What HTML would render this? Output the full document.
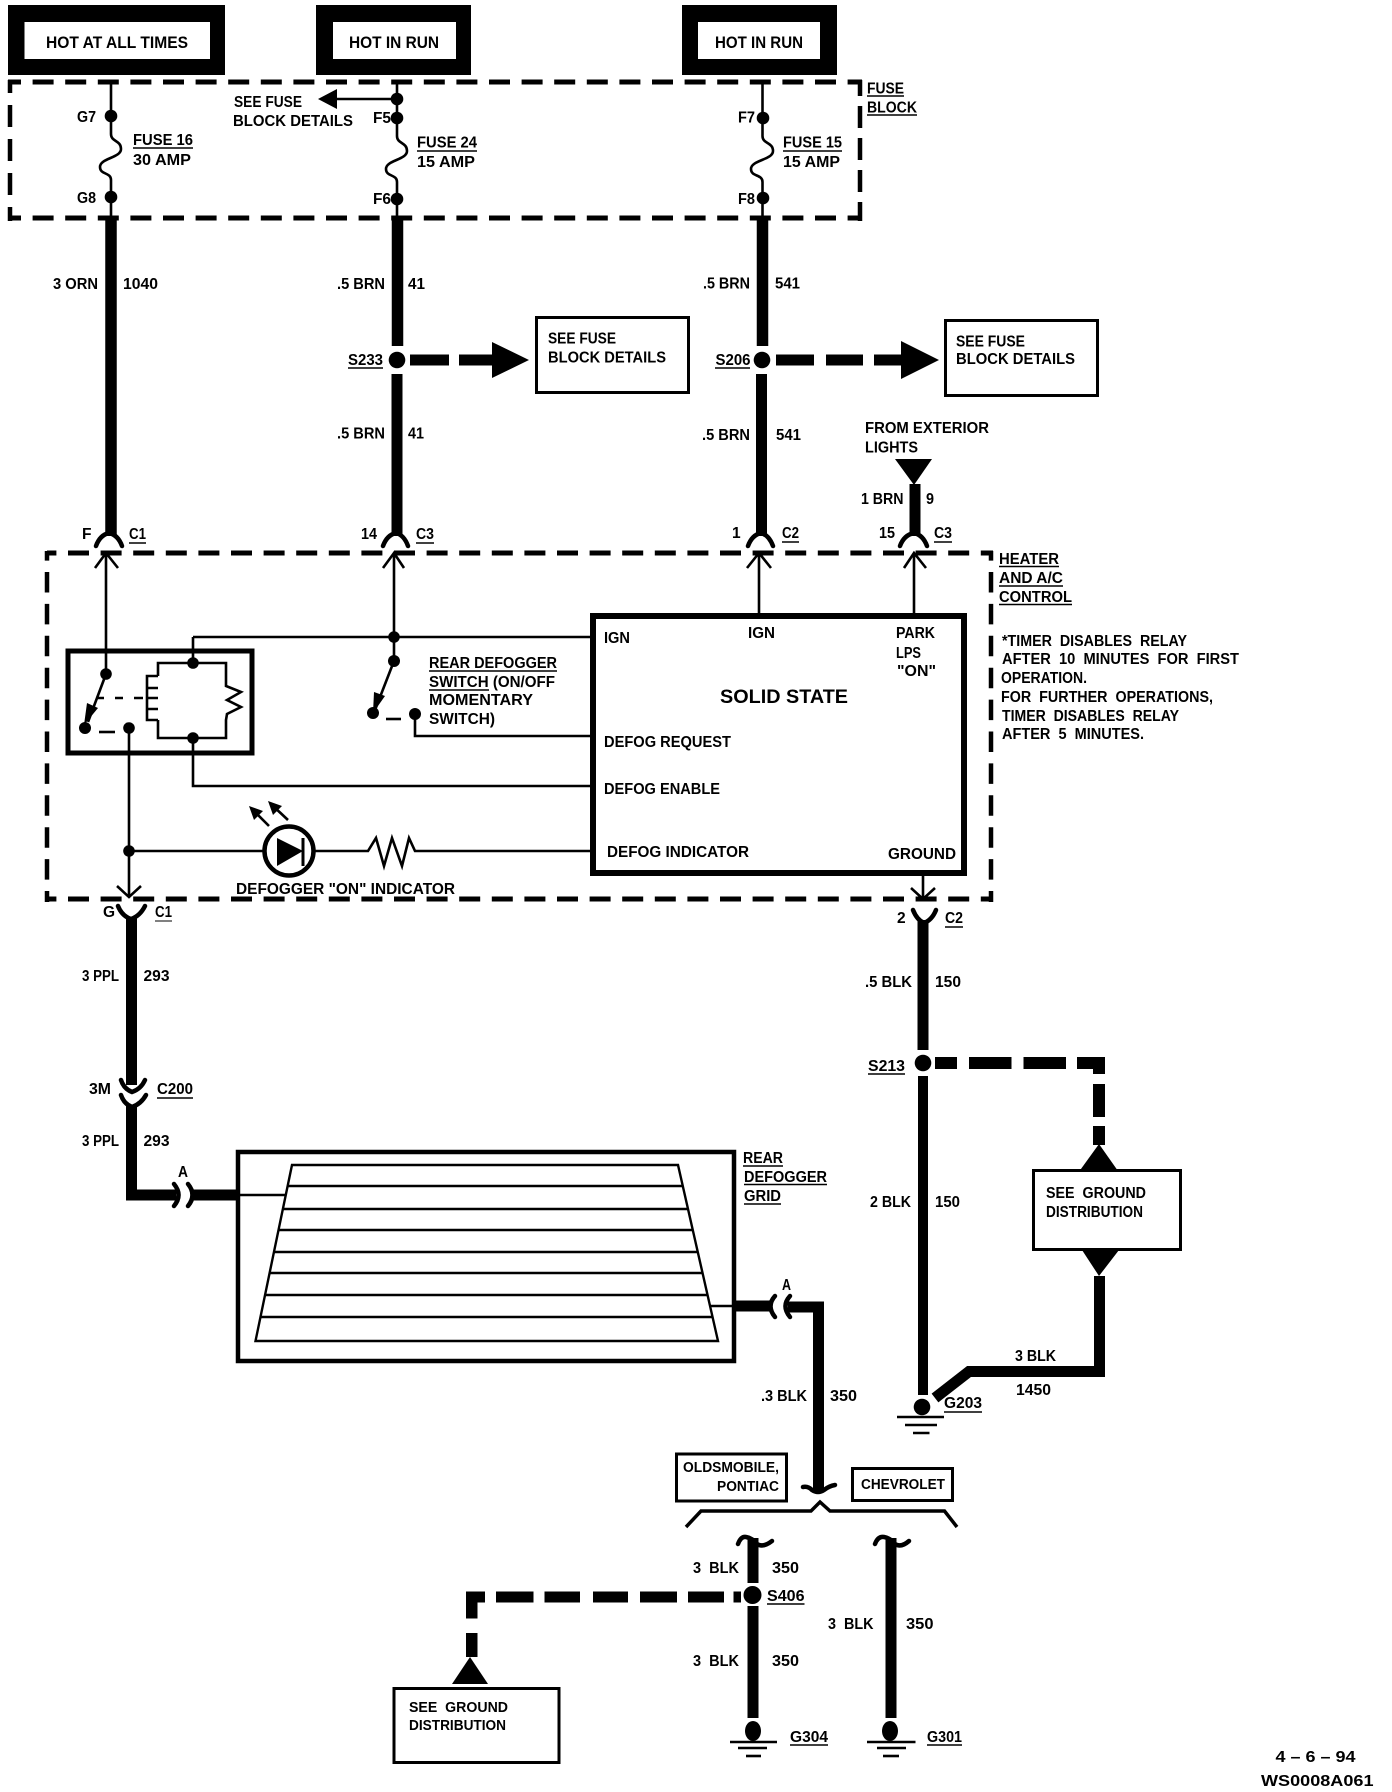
<!DOCTYPE html>
<html><head><meta charset="utf-8"><style>
html,body{margin:0;padding:0;background:#fff}
svg{display:block}
text{font-family:"Liberation Sans",sans-serif;font-weight:bold;font-size:15.5px;fill:#000}
.d{stroke:#000;fill:none}
.u{stroke:#000;stroke-width:1.6;fill:none}
.w{stroke:#000;fill:none;stroke-width:2.6}
.f{stroke:#000;fill:none;stroke-width:11}
.c{stroke:#000;fill:none;stroke-width:4.5;stroke-linecap:round}
.b{stroke:#000;fill:#fff;stroke-width:3}
</style></head><body>
<svg width="1392" height="1792" viewBox="0 0 1392 1792" xmlns="http://www.w3.org/2000/svg">
<rect width="1392" height="1792" fill="#fff"/>

<!-- top boxes -->
<rect x="8" y="5" width="217" height="70"/><rect x="24.5" y="22" width="185.500" height="37" fill="#fff"/>
<rect x="316" y="5" width="155" height="70"/><rect x="333" y="22" width="123" height="37" fill="#fff"/>
<rect x="682" y="5" width="155" height="70"/><rect x="698" y="22" width="122" height="37" fill="#fff"/>
<text x="46" y="48" textLength="142" lengthAdjust="spacingAndGlyphs" style="font-size:16.5px">HOT AT ALL TIMES</text>
<text x="349" y="48" textLength="90" lengthAdjust="spacingAndGlyphs" style="font-size:16.5px">HOT IN RUN</text>
<text x="715" y="48" textLength="88" lengthAdjust="spacingAndGlyphs" style="font-size:16.5px">HOT IN RUN</text>

<!-- fuse block dashed -->
<line class="d" x1="8" y1="82" x2="862" y2="82" stroke-width="5" stroke-dasharray="21 11.6" stroke-dashoffset="8"/>
<line class="d" x1="8" y1="218" x2="862" y2="218" stroke-width="5" stroke-dasharray="21 11.6" stroke-dashoffset="8"/>
<line class="d" x1="10" y1="80" x2="10" y2="221" stroke-width="4.5" stroke-dasharray="22 12" stroke-dashoffset="9"/>
<line class="d" x1="860" y1="80" x2="860" y2="221" stroke-width="4.5" stroke-dasharray="22 10" stroke-dashoffset="6"/>

<!-- fuse wires thin -->
<line class="w" x1="111" y1="84" x2="111" y2="134"/><line class="w" x1="111" y1="180" x2="111" y2="217"/>
<path class="w" d="M111 134C111 142 121 140 121 149C121 158 100 158 100 167C100 175 111 172 111 180"/>
<circle cx="111" cy="116" r="6.300"/><circle cx="111" cy="197" r="6.300"/>
<line class="w" x1="397" y1="84" x2="397" y2="136"/><line class="w" x1="397" y1="182" x2="397" y2="217"/>
<path class="w" d="M397 136C397 144 407 142 407 151C407 160 386 160 386 169C386 177 397 174 397 182"/>
<circle cx="397" cy="99" r="6.300"/><circle cx="397" cy="118" r="6.300"/><circle cx="397" cy="199" r="6.300"/>
<line class="w" x1="397" y1="99" x2="335" y2="99"/><polygon points="318,99 337,89 337,109"/>
<line class="w" x1="762.500" y1="84" x2="762.500" y2="136"/><line class="w" x1="762.500" y1="182" x2="762.500" y2="217"/>
<path class="w" d="M762.500 136C762.500 144 773 142 773 151C773 160 751 160 751 169C751 177 762.500 174 762.500 182"/>
<circle cx="763" cy="118" r="6.300"/><circle cx="763" cy="198" r="6.300"/>

<!-- fuse labels -->
<text x="77" y="122" textLength="19" lengthAdjust="spacingAndGlyphs">G7</text>
<text x="77" y="203" textLength="19" lengthAdjust="spacingAndGlyphs">G8</text>
<text x="133" y="145" textLength="60" lengthAdjust="spacingAndGlyphs">FUSE 16</text><line class="u" x1="133" y1="148" x2="193" y2="148"/>
<text x="133" y="165" textLength="58" lengthAdjust="spacingAndGlyphs">30 AMP</text>
<text x="234" y="107" textLength="68" lengthAdjust="spacingAndGlyphs">SEE FUSE</text>
<text x="233" y="126" textLength="120" lengthAdjust="spacingAndGlyphs">BLOCK DETAILS</text>
<text x="373" y="123" textLength="18" lengthAdjust="spacingAndGlyphs">F5</text>
<text x="373" y="204" textLength="18" lengthAdjust="spacingAndGlyphs">F6</text>
<text x="417" y="147.500" textLength="60" lengthAdjust="spacingAndGlyphs">FUSE 24</text><line class="u" x1="417" y1="151" x2="477" y2="151"/>
<text x="417" y="167" textLength="58" lengthAdjust="spacingAndGlyphs">15 AMP</text>
<text x="738" y="122.500" textLength="17" lengthAdjust="spacingAndGlyphs">F7</text>
<text x="738" y="204" textLength="17" lengthAdjust="spacingAndGlyphs">F8</text>
<text x="783" y="147.500" textLength="59" lengthAdjust="spacingAndGlyphs">FUSE 15</text><line class="u" x1="783" y1="151" x2="842" y2="151"/>
<text x="783" y="167" textLength="57" lengthAdjust="spacingAndGlyphs">15 AMP</text>
<text x="871" y="93.500" textLength="37" lengthAdjust="spacingAndGlyphs" transform="translate(-4 0)">FUSE</text><line class="u" x1="867" y1="96" x2="904" y2="96"/>
<text x="867" y="112.500" textLength="50" lengthAdjust="spacingAndGlyphs">BLOCK</text><line class="u" x1="867" y1="115" x2="917" y2="115"/>

<!-- fat wires upper -->
<line class="f" x1="111" y1="217" x2="111" y2="536" style="stroke-width:11.500"/>
<line class="f" x1="397.500" y1="217" x2="397.500" y2="346" style="stroke-width:11.500"/><line class="f" x1="397" y1="374" x2="397" y2="536"/>
<circle cx="397" cy="360" r="8.300"/>
<line class="f" x1="762.500" y1="217" x2="762.500" y2="346" style="stroke-width:11.500"/><line class="f" x1="761.500" y1="374" x2="761.500" y2="536"/>
<circle cx="762" cy="360" r="8.300"/>
<line class="f" x1="915" y1="484" x2="915" y2="536"/>
<polygon points="895,459 932,459 914,485"/>

<!-- connectors top -->
<path class="c" d="M96 546Q100 535 109 533Q118 535 122 546"/>
<path class="c" d="M383 546Q387 535 396 533Q404 535 408 546"/>
<path class="c" d="M748 546Q752 535 761 533Q769 535 773 546"/>
<path class="c" d="M900 546Q904 535 914 533Q923 535 927 546"/>

<!-- wire labels upper -->
<text x="53" y="289" textLength="45" lengthAdjust="spacingAndGlyphs">3 ORN</text>
<text x="123" y="289" textLength="35" lengthAdjust="spacingAndGlyphs">1040</text>
<text x="337" y="289" textLength="48" lengthAdjust="spacingAndGlyphs">.5 BRN</text>
<text x="408" y="289" textLength="17" lengthAdjust="spacingAndGlyphs">41</text>
<text x="337" y="438.500" textLength="48" lengthAdjust="spacingAndGlyphs">.5 BRN</text>
<text x="408" y="438.500" textLength="16" lengthAdjust="spacingAndGlyphs">41</text>
<text x="703" y="288.500" textLength="47" lengthAdjust="spacingAndGlyphs">.5 BRN</text>
<text x="775" y="288.500" textLength="25" lengthAdjust="spacingAndGlyphs">541</text>
<text x="702" y="440" textLength="48" lengthAdjust="spacingAndGlyphs">.5 BRN</text>
<text x="776" y="440" textLength="25" lengthAdjust="spacingAndGlyphs">541</text>
<text x="348" y="365" textLength="35" lengthAdjust="spacingAndGlyphs">S233</text><line class="u" x1="348" y1="368" x2="383" y2="368"/>
<text x="715.500" y="365" textLength="35" lengthAdjust="spacingAndGlyphs">S206</text><line class="u" x1="715" y1="368" x2="750" y2="368"/>
<text x="82" y="539">F</text>
<text x="129" y="539" textLength="17" lengthAdjust="spacingAndGlyphs">C1</text><line class="u" x1="129" y1="543" x2="146" y2="543"/>
<text x="361" y="539" textLength="16" lengthAdjust="spacingAndGlyphs">14</text>
<text x="416" y="539" textLength="18" lengthAdjust="spacingAndGlyphs">C3</text><line class="u" x1="416" y1="543" x2="434" y2="543"/>
<text x="732" y="538">1</text>
<text x="782" y="538" textLength="17" lengthAdjust="spacingAndGlyphs">C2</text><line class="u" x1="782" y1="542" x2="799" y2="542"/>
<text x="879" y="538" textLength="16" lengthAdjust="spacingAndGlyphs">15</text>
<text x="934" y="538" textLength="18" lengthAdjust="spacingAndGlyphs">C3</text><line class="u" x1="934" y1="542" x2="952" y2="542"/>
<text x="865" y="433" textLength="124" lengthAdjust="spacingAndGlyphs">FROM EXTERIOR</text>
<text x="865" y="452.500" textLength="53" lengthAdjust="spacingAndGlyphs">LIGHTS</text>
<text x="861" y="504" textLength="42.500" lengthAdjust="spacingAndGlyphs">1 BRN</text>
<text x="926" y="504" textLength="8" lengthAdjust="spacingAndGlyphs">9</text>

<!-- s233 / s206 dashed arrows -->
<rect x="410" y="354.500" width="39" height="11"/><rect x="459" y="354.500" width="34" height="11"/>
<polygon points="492,342 492,378 529,360"/>
<rect class="b" x="536.500" y="317.500" width="152" height="75"/>
<text x="548" y="343.500" textLength="68" lengthAdjust="spacingAndGlyphs">SEE FUSE</text>
<text x="548" y="362.500" textLength="118" lengthAdjust="spacingAndGlyphs">BLOCK DETAILS</text>
<rect x="776" y="354.500" width="38" height="11"/><rect x="826" y="354.500" width="37" height="11"/><rect x="874" y="354.500" width="28" height="11"/>
<polygon points="901,341 901,379 939,360"/>
<rect class="b" x="945.500" y="320.500" width="152" height="75"/>
<text x="956" y="346.500" textLength="69" lengthAdjust="spacingAndGlyphs">SEE FUSE</text>
<text x="956" y="364" textLength="119" lengthAdjust="spacingAndGlyphs">BLOCK DETAILS</text>

<!-- heater dashed -->
<line class="d" x1="47" y1="553" x2="993" y2="553" stroke-width="5" stroke-dasharray="21 11.6" stroke-dashoffset="11.600"/>
<line class="d" x1="47" y1="899" x2="993" y2="899" stroke-width="5" stroke-dasharray="21 11.6" stroke-dashoffset="11.600"/>
<line class="d" x1="47" y1="551" x2="47" y2="902" stroke-width="4.500" stroke-dasharray="20.500 11.4" stroke-dashoffset="10.900"/>
<line class="d" x1="997" y1="551" x2="997" y2="902" stroke-width="4.500" stroke-dasharray="20.500 11.4" stroke-dashoffset="10.900" transform="translate(-6 0)"/>
<text x="999" y="564" textLength="60" lengthAdjust="spacingAndGlyphs">HEATER</text><line class="u" x1="999" y1="566.500" x2="1059" y2="566.500"/>
<text x="999" y="583" textLength="64" lengthAdjust="spacingAndGlyphs">AND A/C</text><line class="u" x1="999" y1="586" x2="1063" y2="586"/>
<text x="999" y="602" textLength="73" lengthAdjust="spacingAndGlyphs">CONTROL</text><line class="u" x1="999" y1="604.500" x2="1072" y2="604.500"/>
<text x="1002" y="646" textLength="185" lengthAdjust="spacingAndGlyphs">*TIMER&#160;&#160;DISABLES&#160;&#160;RELAY</text>
<text x="1002" y="664" textLength="237" lengthAdjust="spacingAndGlyphs">AFTER&#160;&#160;10&#160;&#160;MINUTES&#160;&#160;FOR&#160;&#160;FIRST</text>
<text x="1001" y="683" textLength="86" lengthAdjust="spacingAndGlyphs">OPERATION.</text>
<text x="1001" y="702" textLength="212" lengthAdjust="spacingAndGlyphs">FOR&#160;&#160;FURTHER&#160;&#160;OPERATIONS,</text>
<text x="1002" y="721" textLength="177" lengthAdjust="spacingAndGlyphs">TIMER&#160;&#160;DISABLES&#160;&#160;RELAY</text>
<text x="1002" y="739" textLength="142" lengthAdjust="spacingAndGlyphs">AFTER&#160;&#160;5&#160;&#160;MINUTES.</text>

<!-- inputs arrows -->
<path class="w" d="M106 555V674M95 568L106 553L118 568"/>
<path class="w" d="M394 555V661M383 568L394 553L404 568"/>
<path class="w" d="M759 555V615M747 568L759 553L771 568"/>
<path class="w" d="M914 555V615M904 568L914 553L926 568"/>

<!-- relay -->
<rect x="68" y="651" width="184" height="102" fill="none" stroke="#000" stroke-width="5"/>
<circle cx="106" cy="674" r="5.800"/>
<path class="w" d="M106 674L88 722"/><polygon points="84,725 87,703 98,708"/>
<circle cx="85" cy="728" r="6"/>
<path class="w" d="M96 698H104M115 698H123M134 698H143"/>
<line class="w" x1="99" y1="732" x2="115" y2="732"/>
<circle cx="129" cy="728" r="5.800"/>
<path class="w" d="M129 728V896M117 886L129 897L141 886"/>
<circle cx="129" cy="851" r="5.800"/>
<path class="w" d="M193 637V663M158 676V663H226V686L241 692L227 700L241 707L227 714L226 720V738H158V720"/>
<path class="w" d="M158 676H147V720H158M147 688H158M147 698H158M147 709H158"/>
<circle cx="193" cy="663" r="5.800"/><circle cx="193" cy="738" r="5.800"/>
<path class="w" d="M193 738V786H591"/>
<line class="w" x1="193" y1="637" x2="591" y2="637"/>
<circle cx="394" cy="637" r="5.800"/><circle cx="394" cy="661" r="6"/>
<path class="w" d="M394 661L375 710"/><polygon points="373,713 374,692 385,696"/>
<circle cx="373" cy="713" r="6"/>
<line class="w" x1="386" y1="719" x2="401" y2="719"/>
<circle cx="415" cy="714" r="6"/>
<path class="w" d="M415 714V736H591"/>
<text x="429" y="668" textLength="128" lengthAdjust="spacingAndGlyphs">REAR DEFOGGER</text><line class="u" x1="429" y1="671" x2="557" y2="671"/>
<text x="429" y="687" textLength="126" lengthAdjust="spacingAndGlyphs">SWITCH (ON/OFF</text><line class="u" x1="429" y1="690" x2="489" y2="690"/>
<text x="429" y="705" textLength="104" lengthAdjust="spacingAndGlyphs">MOMENTARY</text>
<text x="429" y="724" textLength="66" lengthAdjust="spacingAndGlyphs">SWITCH)</text>

<!-- solid state -->
<rect x="593" y="616" width="379" height="263" fill="#fff" stroke="#000" stroke-width="6" transform="translate(0 0)" style="display:none"/>
<rect x="593" y="617" width="378" height="261" fill="#fff" stroke="#000" stroke-width="6" style="display:none"/>
<rect x="593" y="616" width="377" height="260" fill="#fff" stroke="#000" stroke-width="0" style="display:none"/>
<rect x="593" y="616" width="371" height="257" fill="#fff" stroke="#000" stroke-width="6"/>
<text x="604" y="643" textLength="26" lengthAdjust="spacingAndGlyphs">IGN</text>
<text x="748" y="638" textLength="27" lengthAdjust="spacingAndGlyphs">IGN</text>
<text x="896" y="638" textLength="39" lengthAdjust="spacingAndGlyphs">PARK</text>
<text x="896" y="658" textLength="25" lengthAdjust="spacingAndGlyphs">LPS</text>
<text x="897" y="676" textLength="39" lengthAdjust="spacingAndGlyphs">"ON"</text>
<text x="720" y="703" textLength="128" lengthAdjust="spacingAndGlyphs" style="font-size:19.5px">SOLID STATE</text>
<text x="604" y="747" textLength="127" lengthAdjust="spacingAndGlyphs">DEFOG REQUEST</text>
<text x="604" y="794" textLength="116" lengthAdjust="spacingAndGlyphs">DEFOG ENABLE</text>
<text x="607" y="857" textLength="142" lengthAdjust="spacingAndGlyphs">DEFOG INDICATOR</text>
<text x="888" y="859" textLength="68" lengthAdjust="spacingAndGlyphs">GROUND</text>

<!-- indicator -->
<line class="w" x1="129" y1="851" x2="263" y2="851"/>
<circle cx="289" cy="851" r="24.500" fill="#fff" stroke="#000" stroke-width="4.500"/>
<polygon points="277,838 303,851 277,866"/><line x1="303" y1="838" x2="303" y2="866" stroke="#000" stroke-width="3"/>
<path class="w" d="M315 851H362L368 851L376 838L384 866L392 838L402 866L409 838L415 851H591"/>
<path class="w" d="M269 826L253 810"/><polygon points="249,806 263,811 254,820"/>
<path class="w" d="M288 820L272 805"/><polygon points="268,801 282,806 273,815"/>
<text x="236" y="894" textLength="219" lengthAdjust="spacingAndGlyphs">DEFOGGER "ON" INDICATOR</text>

<!-- ground arrow & lower connectors -->
<path class="w" d="M923 876V897M911 888L923 899L935 888"/>
<path class="c" d="M118 906Q122 916 131 919Q140 916 145 906"/>
<path class="c" d="M913 910Q917 920 924 923Q932 920 936 910"/>
<text x="103" y="917">G</text>
<text x="155" y="917" textLength="17" lengthAdjust="spacingAndGlyphs">C1</text><line x1="155" y1="921" x2="172" y2="921" stroke="#000" stroke-width="1"/>
<text x="897" y="923">2</text>
<text x="945" y="923" textLength="18" lengthAdjust="spacingAndGlyphs">C2</text><line class="u" x1="945" y1="927" x2="963" y2="927"/>

<!-- wire D -->
<line class="f" x1="131.500" y1="917" x2="131.500" y2="1085"/>
<path class="c" d="M121 1080Q124 1089 132 1092Q141 1089 145 1080"/>
<path class="c" d="M121 1095Q124 1104 132 1107Q141 1104 146 1095"/>
<path class="f" d="M131.500 1106V1195H176"/>
<path class="c" d="M174 1184Q183 1195 174 1206"/>
<path class="c" d="M188 1184Q197 1195 188 1206"/>
<line class="f" x1="191" y1="1195" x2="237" y2="1195"/>
<text x="82" y="981" textLength="37" lengthAdjust="spacingAndGlyphs">3 PPL</text>
<text x="143.500" y="981" textLength="26" lengthAdjust="spacingAndGlyphs">293</text>
<text x="89" y="1094" textLength="22" lengthAdjust="spacingAndGlyphs">3M</text>
<text x="157" y="1094" textLength="36" lengthAdjust="spacingAndGlyphs">C200</text><line class="u" x1="157" y1="1098" x2="193" y2="1098"/>
<text x="82" y="1146" textLength="37" lengthAdjust="spacingAndGlyphs">3 PPL</text>
<text x="143.500" y="1146" textLength="26" lengthAdjust="spacingAndGlyphs">293</text>
<text x="178" y="1177" textLength="10" lengthAdjust="spacingAndGlyphs">A</text>

<!-- grid -->
<rect x="238" y="1152" width="496" height="209" fill="#fff" stroke="#000" stroke-width="4.500"/>
<path d="M292 1165H678L718 1341H255.500Z" fill="none" stroke="#000" stroke-width="2.400"/>
<g stroke="#000" stroke-width="2.400">
<line x1="287.600" y1="1186" x2="682.800" y2="1186"/>
<line x1="282.900" y1="1209" x2="688" y2="1209"/>
<line x1="278.500" y1="1230" x2="692.800" y2="1230"/>
<line x1="274" y1="1252" x2="697.800" y2="1252"/>
<line x1="269.600" y1="1273" x2="702.500" y2="1273"/>
<line x1="265" y1="1295" x2="707.500" y2="1295"/>
<line x1="260.500" y1="1317" x2="712.500" y2="1317"/>
<line x1="236" y1="1195" x2="286" y2="1195"/>
<line x1="711" y1="1306" x2="736" y2="1306"/>
</g>
<text x="743" y="1163" textLength="40" lengthAdjust="spacingAndGlyphs">REAR</text><line class="u" x1="743" y1="1166" x2="783" y2="1166"/>
<text x="744" y="1182" textLength="83" lengthAdjust="spacingAndGlyphs">DEFOGGER</text><line class="u" x1="744" y1="1184.500" x2="827" y2="1184.500"/>
<text x="744" y="1201" textLength="37" lengthAdjust="spacingAndGlyphs">GRID</text><line class="u" x1="744" y1="1204" x2="781" y2="1204"/>

<!-- right feed 350 -->
<line class="f" x1="735" y1="1306" x2="770" y2="1306"/>
<path class="c" d="M775 1296Q766 1306 775 1317"/>
<path class="c" d="M790 1296Q781 1306 790 1317"/>
<path class="f" d="M788 1307H818.500V1490"/>
<path class="c" d="M803 1487Q808 1486 812 1490Q818 1494 824 1490Q829 1486 835 1485"/>
<text x="782" y="1290" textLength="9" lengthAdjust="spacingAndGlyphs">A</text>
<text x="761" y="1401" textLength="46" lengthAdjust="spacingAndGlyphs">.3 BLK</text>
<text x="830" y="1401" textLength="27" lengthAdjust="spacingAndGlyphs">350</text>

<!-- wire E -->
<line class="f" x1="923" y1="920" x2="923" y2="1050"/>
<circle cx="923" cy="1063" r="8.300"/>
<line x1="923" y1="1076" x2="923" y2="1395" stroke="#000" stroke-width="10"/>
<circle cx="922" cy="1407" r="8.300"/>
<g stroke="#000" stroke-width="2.600">
<line x1="897" y1="1417" x2="944" y2="1417"/><line x1="905" y1="1425" x2="937" y2="1425"/><line x1="913" y1="1433" x2="929.500" y2="1433"/>
<line x1="730" y1="1742" x2="777" y2="1742"/><line x1="738" y1="1748" x2="767" y2="1748"/><line x1="746" y1="1756" x2="761" y2="1756"/>
<line x1="867" y1="1742" x2="915.500" y2="1742"/><line x1="877" y1="1748" x2="906" y2="1748"/><line x1="883" y1="1756" x2="899" y2="1756"/>
</g>
<text x="865" y="987" textLength="47" lengthAdjust="spacingAndGlyphs">.5 BLK</text>
<text x="935" y="987" textLength="26" lengthAdjust="spacingAndGlyphs">150</text>
<text x="868" y="1071" textLength="37" lengthAdjust="spacingAndGlyphs">S213</text><line class="u" x1="868" y1="1074" x2="905" y2="1074"/>
<text x="870" y="1207" textLength="41" lengthAdjust="spacingAndGlyphs">2 BLK</text>
<text x="935" y="1207" textLength="25" lengthAdjust="spacingAndGlyphs">150</text>
<text x="944" y="1408" textLength="38" lengthAdjust="spacingAndGlyphs">G203</text><line class="u" x1="944" y1="1412" x2="982" y2="1412"/>
<rect x="935" y="1057" width="22" height="12"/><rect x="969" y="1057" width="42.500" height="12"/><rect x="1023.500" y="1057" width="42.500" height="12"/>
<rect x="1077" y="1057" width="28" height="12"/><rect x="1093" y="1057" width="12" height="17"/>
<rect x="1093" y="1084" width="12" height="33"/><rect x="1093" y="1126" width="12" height="19"/>
<polygon points="1099,1144 1118,1171 1079.500,1171"/>
<rect class="b" x="1033.500" y="1170.500" width="147" height="79"/>
<text x="1046" y="1198" textLength="100" lengthAdjust="spacingAndGlyphs">SEE&#160;&#160;GROUND</text>
<text x="1046" y="1217" textLength="97" lengthAdjust="spacingAndGlyphs">DISTRIBUTION</text>
<polygon points="1082,1250 1119,1250 1099,1276"/>
<path class="f" d="M1099.500 1276V1371.500H969L935 1398" stroke-linejoin="miter"/>
<text x="1015" y="1361" textLength="41" lengthAdjust="spacingAndGlyphs">3 BLK</text>
<text x="1016" y="1395" textLength="35" lengthAdjust="spacingAndGlyphs">1450</text>

<!-- option boxes -->
<rect class="b" x="676.500" y="1454" width="110" height="47"/>
<text x="683" y="1472" textLength="96" lengthAdjust="spacingAndGlyphs" style="font-size:14.500px">OLDSMOBILE,</text>
<text x="717" y="1491" textLength="62" lengthAdjust="spacingAndGlyphs" style="font-size:14.500px">PONTIAC</text>
<rect class="b" x="852.500" y="1468.500" width="100" height="32"/>
<text x="861" y="1489" textLength="84" lengthAdjust="spacingAndGlyphs" style="font-size:14.500px">CHEVROLET</text>
<path d="M686 1527L701 1511H811L820 1502L830 1511H944.500L957 1527" fill="none" stroke="#000" stroke-width="3.500"/>

<!-- lower wires -->
<line class="f" x1="753" y1="1538" x2="753" y2="1583"/>
<line class="f" x1="753" y1="1606" x2="753" y2="1718"/>
<path class="c" d="M738 1544Q741 1536 746 1537Q752 1538 757 1544Q763 1548 772 1541"/>
<ellipse cx="752.500" cy="1595" rx="9" ry="9"/>
<ellipse cx="753" cy="1731" rx="8" ry="10"/>
<line class="f" x1="891" y1="1538" x2="891" y2="1718"/>
<path class="c" d="M875 1544Q878 1536 884 1537Q890 1538 895 1544Q901 1548 909 1541"/>
<ellipse cx="890" cy="1731" rx="8" ry="10"/>
<text x="693" y="1573" textLength="46" lengthAdjust="spacingAndGlyphs">3&#160;&#160;BLK</text>
<text x="772" y="1573" textLength="27" lengthAdjust="spacingAndGlyphs">350</text>
<text x="693" y="1666" textLength="46" lengthAdjust="spacingAndGlyphs">3&#160;&#160;BLK</text>
<text x="772" y="1666" textLength="27" lengthAdjust="spacingAndGlyphs">350</text>
<text x="828" y="1629" textLength="45.500" lengthAdjust="spacingAndGlyphs">3&#160;&#160;BLK</text>
<text x="906" y="1629" textLength="27.500" lengthAdjust="spacingAndGlyphs">350</text>
<text x="767" y="1601" textLength="37.500" lengthAdjust="spacingAndGlyphs">S406</text><line class="u" x1="767" y1="1604" x2="804.500" y2="1604"/>
<text x="790" y="1742" textLength="38" lengthAdjust="spacingAndGlyphs">G304</text><line class="u" x1="790" y1="1745" x2="828" y2="1745"/>
<text x="927" y="1742" textLength="35" lengthAdjust="spacingAndGlyphs">G301</text><line class="u" x1="927" y1="1745" x2="962" y2="1745"/>

<!-- s406 dashes -->
<g>
<rect x="467" y="1591.500" width="18" height="11"/><rect x="466" y="1591.500" width="11.500" height="27"/>
<rect x="496" y="1591.500" width="37.500" height="11"/><rect x="544.500" y="1591.500" width="35.500" height="11"/>
<rect x="593" y="1591.500" width="35" height="11"/><rect x="640" y="1591.500" width="37" height="11"/>
<rect x="688" y="1591.500" width="36" height="11"/><rect x="733.500" y="1591.500" width="7.500" height="11"/>
<rect x="466" y="1633" width="11.500" height="24"/>
</g>
<polygon points="470,1657 488,1684 452,1684"/>
<rect class="b" x="394" y="1688.500" width="165" height="74"/>
<text x="409" y="1712" textLength="99" lengthAdjust="spacingAndGlyphs" style="font-size:14.500px">SEE&#160;&#160;GROUND</text>
<text x="409" y="1730" textLength="97" lengthAdjust="spacingAndGlyphs" style="font-size:14.500px">DISTRIBUTION</text>

<!-- date -->
<text x="1275.500" y="1762" textLength="80" lengthAdjust="spacingAndGlyphs">4 – 6 – 94</text>
<text x="1261" y="1786" textLength="112.500" lengthAdjust="spacingAndGlyphs">WS0008A061</text>
</svg>
</body></html>
